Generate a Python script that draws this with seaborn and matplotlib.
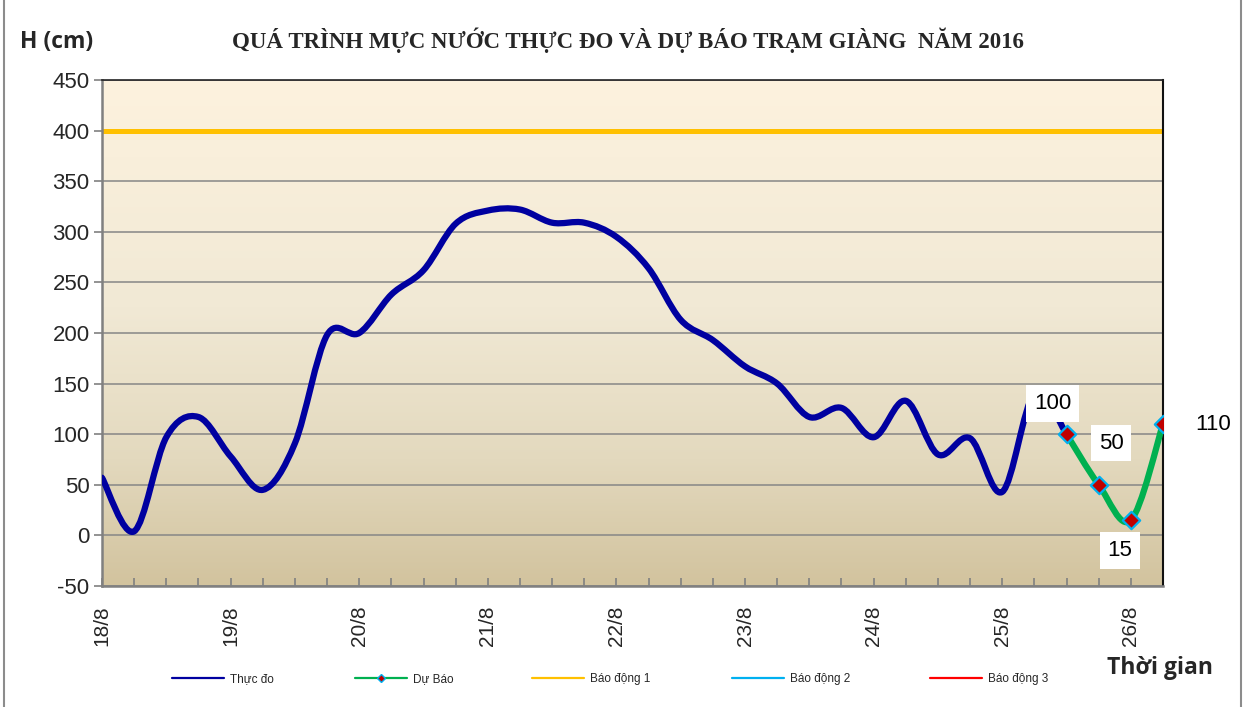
import numpy as np
import pandas as pd
import matplotlib
matplotlib.use('Agg')
import matplotlib.pyplot as plt
import seaborn as sns
from matplotlib.path import Path
from matplotlib.patches import PathPatch
from matplotlib.lines import Line2D
from matplotlib.colors import LinearSegmentedColormap

# Mực nước thực đo, bước 6 giờ từ 18/8
thuc_do = [57, 4, 97, 117, 78, 45, 91, 198, 200, 238, 262, 308, 321, 322, 309, 309,
           295, 264, 213, 193, 167, 150, 117, 126, 97, 133, 80, 96, 43, 140, 100]
# Dự báo, nối tiếp điểm thực đo cuối
du_bao = [100, 50, 15, 110]
bao_dong_1 = 400
date_labels = ['18/8', '19/8', '20/8', '21/8', '22/8', '23/8', '24/8', '25/8', '26/8']
steps_per_day = 4

legend_names = ['Thực đo', 'Dự Báo', 'Báo động 1', 'Báo động 2', 'Báo động 3']

C_OBS = '#0000A0'
C_FC = '#00B050'
C_BD1 = '#FFC000'
C_BD2 = '#00B0F0'
C_BD3 = '#FF0000'


def smooth_path(xs, ys):
    # Excel-like smoothed line: cubic Bezier through every point
    pts = np.column_stack([xs, ys]).astype(float)
    ext = np.vstack([pts[0], pts, pts[-1]])
    verts, codes = [pts[0]], [Path.MOVETO]
    for k in range(len(pts) - 1):
        p0, p1, p2, p3 = ext[k], ext[k + 1], ext[k + 2], ext[k + 3]
        verts += [p1 + (p2 - p0) / 6, p2 - (p3 - p1) / 6, p2]
        codes += [Path.CURVE4] * 3
    return Path(verts, codes)


sns.set_theme(style='white')
plt.rcParams['font.family'] = ['Liberation Sans', 'DejaVu Sans']
plt.rcParams['axes.unicode_minus'] = False

obs_x = np.arange(len(thuc_do))
fc_x = np.arange(len(du_bao)) + len(thuc_do) - 1
df_fc = pd.DataFrame({'t': fc_x, 'h': du_bao})
x_max = fc_x[-1]

fig = plt.figure(figsize=(12.53, 7.07), dpi=100)
ax = fig.add_axes([102 / 1253, 1 - 586 / 707, 1061 / 1253, 506 / 707])

# background gradient
cmap = LinearSegmentedColormap.from_list(
    'bg', [(0, '#D2C39E'), (0.25, '#E3D9BE'), (0.55, '#F1E9D5'), (1, '#FDF2DE')])
grad = np.linspace(0, 1, 256).reshape(-1, 1)
ax.imshow(grad, cmap=cmap, origin='lower', extent=[0, 1, 0, 1],
          transform=ax.transAxes, aspect='auto', zorder=-10)

ax.yaxis.grid(True, color='#868686', lw=1.1)
ax.set_axisbelow(True)

ax.axhline(bao_dong_1, color=C_BD1, lw=3.6, zorder=2)

ax.add_patch(PathPatch(smooth_path(obs_x, thuc_do), fc='none', ec=C_OBS, lw=4.5,
                       capstyle='round', joinstyle='round', zorder=3))
ax.add_patch(PathPatch(smooth_path(fc_x, du_bao), fc='none', ec=C_FC, lw=4.5,
                       capstyle='round', joinstyle='round', zorder=4))
sns.scatterplot(data=df_fc, x='t', y='h', marker='D', s=78, color='#C00000',
                edgecolor=C_BD2, linewidth=1.6, zorder=5, ax=ax, legend=False)

# data labels
offsets = [(-10, 22), (9, 30), (-8, -22), (36, 0)]
for xv, yv, off in zip(fc_x, du_bao, offsets):
    ax.annotate(str(yv), (xv, yv), xytext=off, textcoords='offset points',
                ha='center', va='center', fontsize=16, color='black', zorder=6,
                annotation_clip=False,
                bbox=dict(boxstyle='square,pad=0.35', fc='white', ec='none'))

ax.set_xlim(0, x_max)
ax.set_ylim(-50, 450)
ax.set_yticks(np.arange(-50, 451, 50))
ax.set_xticks(np.arange(0, x_max, steps_per_day))
ax.set_xticklabels(date_labels, rotation=90, fontsize=15)
ax.set_xticks(np.arange(0, x_max + 1), minor=True)
ax.tick_params(axis='y', left=True, direction='out', length=6, width=1.2,
               color='#808080', labelsize=16, pad=3)
ax.tick_params(axis='x', which='both', bottom=True, direction='in', length=6,
               width=1.2, color='#808080', pad=14)
ax.set_xlabel('')
ax.set_ylabel('')

for side in ['left', 'bottom']:
    ax.spines[side].set_color('#808080')
    ax.spines[side].set_linewidth(1.8)
ax.spines['top'].set_color('#222222')
ax.spines['top'].set_linewidth(1.2)
ax.spines['right'].set_color('#111111')
ax.spines['right'].set_linewidth(1.5)

fig.text(628 / 1253, 1 - 40 / 707,
         'QUÁ TRÌNH MỰC NƯỚC THỰC ĐO VÀ DỰ BÁO TRẠM GIÀNG  NĂM 2016',
         ha='center', va='center', fontsize=16.5, fontweight='bold',
         family=['Liberation Serif', 'DejaVu Serif'])
fig.text(57 / 1253, 1 - 42 / 707, 'H (cm)', ha='center', va='center',
         fontsize=16.5, fontweight='bold', family=['Open Sans', 'DejaVu Sans'])
fig.text(1160 / 1253, 1 - 668 / 707, 'Thời gian', ha='center', va='center',
         fontsize=16.5, fontweight='bold', family=['Open Sans', 'DejaVu Sans'])

# legend entries, each placed on its own
handles = [
    Line2D([], [], color=C_OBS, lw=1.6),
    Line2D([], [], color=C_FC, lw=1.6, marker='D', ms=4, mfc='#C00000',
           mec=C_BD2, mew=1),
    Line2D([], [], color=C_BD1, lw=1.6),
    Line2D([], [], color=C_BD2, lw=1.6),
    Line2D([], [], color=C_BD3, lw=1.6),
]
leg_x = [172, 355, 532, 732, 930]
for h, name, lx in zip(handles, legend_names, leg_x):
    fig.legend(handles=[h], labels=[name], loc='center left',
               bbox_to_anchor=(lx / 1253, 1 - 679 / 707), frameon=False,
               fontsize=8.5, handlelength=4.4, handletextpad=0.5,
               borderpad=0, borderaxespad=0)

# chart border
for bx in [4, 1241]:
    fig.add_artist(Line2D([bx / 1253, bx / 1253], [0, 1], color='#8c8c8c', lw=1.5))

fig.savefig('out.png', dpi=100)
